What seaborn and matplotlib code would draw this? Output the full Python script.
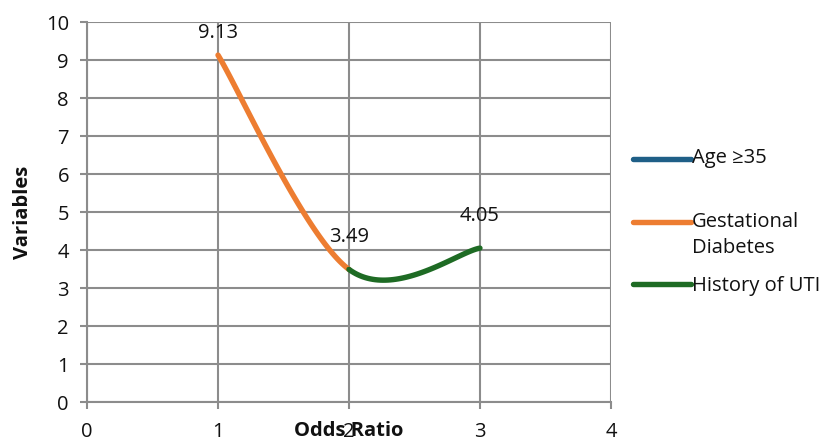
import numpy as np
import pandas as pd
import matplotlib
matplotlib.use("Agg")
import matplotlib.pyplot as plt
import seaborn as sns
from matplotlib.lines import Line2D
from matplotlib.legend_handler import HandlerLine2D

# Odds ratios per variable (positions 1..3 on the horizontal axis)
variables = ["Age \u226535", "Gestational\nDiabetes", "History of UTI"]
positions = [1, 2, 3]
odds_ratio = [9.13, 3.49, 4.05]
colors = ["#1F5F87", "#ED7D31", "#1E6B24"]

x_ticks = [0, 1, 2, 3, 4]
y_ticks = list(range(0, 11))

FS = 14.5
TEXT_COLOR = "#111111"
GRID_COLOR = "#8C8C8C"
LINE_SPACING = 1.38

sns.set_theme(style="white")
plt.rcParams["font.family"] = ["Open Sans", "DejaVu Sans"]


def smooth_segment(xs, ys, i, n=60):
    """Cubic Bezier between point i and i+1 with Catmull-Rom style tangents."""
    p = np.column_stack([xs, ys]).astype(float)
    last = len(p) - 1
    p0 = p[i]
    p3 = p[i + 1]
    prev_pt = p[i - 1] if i > 0 else p[i]
    next_pt = p[i + 2] if i + 2 <= last else p[i + 1]
    c1 = p0 + (p3 - prev_pt) / 6.0
    c2 = p3 - (next_pt - p0) / 6.0
    t = np.linspace(0, 1, n)[:, None]
    curve = ((1 - t) ** 3) * p0 + 3 * ((1 - t) ** 2) * t * c1 \
        + 3 * (1 - t) * t ** 2 * c2 + t ** 3 * p3
    return curve[:, 0], curve[:, 1]


class FirstLineHandler(HandlerLine2D):
    """Line handle raised to sit beside the first line of a two-line label."""

    def __init__(self, shift, **kw):
        super().__init__(**kw)
        self.shift = shift

    def create_artists(self, legend, orig_handle, xdescent, ydescent,
                       width, height, fontsize, trans):
        arts = super().create_artists(legend, orig_handle, xdescent, ydescent,
                                      width, height, fontsize, trans)
        for a in arts:
            a.set_ydata(np.asarray(a.get_ydata()) + self.shift)
        return arts


fig = plt.figure(figsize=(8.25, 4.41), dpi=100)
ax = fig.add_axes([0.1055, 0.0884, 0.635, 0.8616])

# each segment takes the colour of the point it ends on
for i in range(len(positions) - 1):
    sx, sy = smooth_segment(positions, odds_ratio, i)
    seg = pd.DataFrame({"x": sx, "y": sy})
    sns.lineplot(data=seg, x="x", y="y", sort=False, ax=ax,
                 color=colors[i + 1], linewidth=3.9,
                 solid_capstyle="round", legend=False)

for xv, yv in zip(positions, odds_ratio):
    off = 16 if yv > 9 else 23
    ax.annotate(f"{yv:.2f}", (xv, yv), xytext=(0, off), textcoords="offset points",
                ha="center", va="center", fontsize=FS, color=TEXT_COLOR)

ax.set_xlim(0, 4)
ax.set_ylim(0, 10)
ax.set_xticks(x_ticks)
ax.set_yticks(y_ticks)
ax.set_xticklabels([str(v) for v in x_ticks])
ax.set_yticklabels([str(v) for v in y_ticks])
ax.grid(True, color=GRID_COLOR, linewidth=1.5)
ax.set_axisbelow(True)
for side in ["top", "right"]:
    ax.spines[side].set_visible(False)
for side in ["left", "bottom"]:
    ax.spines[side].set_color(GRID_COLOR)
    ax.spines[side].set_linewidth(1.5)
ax.tick_params(axis="both", which="both", direction="out", length=5, width=1.5,
               color=GRID_COLOR, labelsize=FS, labelcolor=TEXT_COLOR,
               bottom=True, left=True)
ax.tick_params(axis="y", pad=8)
ax.tick_params(axis="x", pad=9.5)

ax.set_xlabel("Odds Ratio", fontsize=FS, fontweight="bold", color=TEXT_COLOR, labelpad=-15)
ax.set_ylabel("Variables", fontsize=FS, fontweight="bold", color=TEXT_COLOR, labelpad=9)

# legend: the first two labels span two lines, handle beside the first line
legend_labels = [variables[0] + "\n", variables[1], variables[2]]
handles = [Line2D([], [], color=c, linewidth=3.9, solid_capstyle="round") for c in colors]
shift = 9.2
handler_map = {handles[0]: FirstLineHandler(shift),
               handles[1]: FirstLineHandler(shift)}
leg = fig.legend(handles, legend_labels, loc="center left",
                 bbox_to_anchor=(0.745, 0.497), frameon=False, fontsize=FS,
                 handlelength=2.9, handletextpad=0.05, labelspacing=0.9,
                 handler_map=handler_map)
for t in leg.get_texts():
    t.set_linespacing(LINE_SPACING)
    t.set_color(TEXT_COLOR)

fig.savefig("out.png", dpi=100)
